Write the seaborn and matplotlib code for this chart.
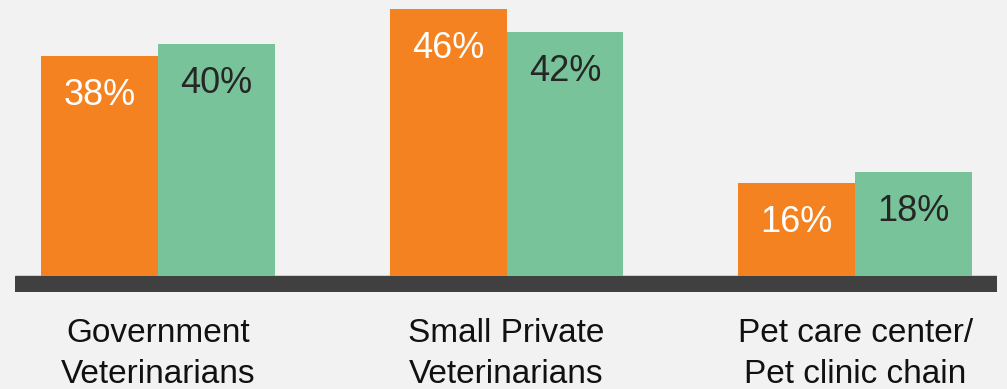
import matplotlib
matplotlib.use("Agg")
import matplotlib.pyplot as plt
import seaborn as sns
import pandas as pd

categories = ["Government\nVeterinarians", "Small Private\nVeterinarians", "Pet care center/\nPet clinic chain"]
series_names = ["Series 1", "Series 2"]
series1 = [38, 46, 16]
series2 = [40, 42, 18]

rows = []
for c, a, b in zip(categories, series1, series2):
    rows.append({"cat": c, "series": series_names[0], "val": a})
    rows.append({"cat": c, "series": series_names[1], "val": b})
df = pd.DataFrame(rows)

sns.set_style("white")
plt.rcParams["font.family"] = ["Liberation Sans", "DejaVu Sans"]

bg = "#f2f2f2"
fig = plt.figure(figsize=(10.07, 3.89), dpi=100, facecolor=bg)
ax = fig.add_axes([15/1007, 1 - 292/389, 982/1007, 292/389])
ax.set_facecolor(bg)

palette = {series_names[0]: "#f58220", series_names[1]: "#79c39b"}
sns.barplot(data=df, x="cat", y="val", hue="series", palette=palette,
            width=0.67, gap=0, legend=False, ax=ax, saturation=1, linewidth=0)

px_per_unit = 5.8
ylow = -16 / px_per_unit
ax.set_ylim(ylow, 276 / px_per_unit)
ax.set_xlim(-0.41, 2.407)
ax.axhspan(ylow, 0, color="#404040", zorder=0.5)

for cont, col in zip(ax.containers, ["white", "#262626"]):
    for bar in cont:
        h = bar.get_height()
        ax.annotate(f"{h:.0f}%", (bar.get_x() + bar.get_width() / 2, h),
                    xytext=(0, -28.5), textcoords="offset points",
                    ha="center", va="center", fontsize=26, color=col)

ax.set_xlabel("")
ax.set_ylabel("")
ax.set_yticks([])
ax.set_xticks(range(len(categories)))
ax.set_xticklabels(categories, fontsize=24, color="#111111", linespacing=1.4)
ax.tick_params(axis="x", length=0, pad=19)
for s in ax.spines.values():
    s.set_visible(False)

fig.savefig("out.png", dpi=100, facecolor=bg)
